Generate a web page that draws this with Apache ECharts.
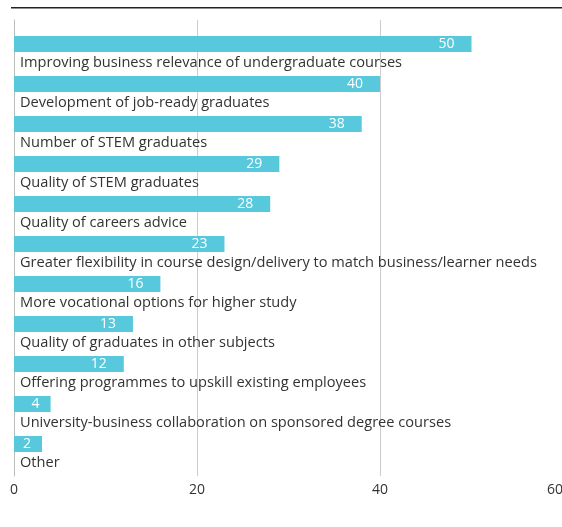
<!DOCTYPE html>
<html>
<head>
<meta charset="utf-8">
<script src="https://cdn.jsdelivr.net/npm/echarts@6/dist/echarts.min.js"></script>
<style>
  html, body { margin: 0; padding: 0; background: #fff; }
  #chart { width: 562px; height: 527px; }
</style>
</head>
<body>
<div id="chart"></div>
<script>
// Survey priorities, % of respondents
const categories = [
  'Improving business relevance of undergraduate courses',
  'Development of job-ready graduates',
  'Number of STEM graduates',
  'Quality of STEM graduates',
  'Quality of careers advice',
  'Greater flexibility in course design/delivery to match business/learner needs',
  'More vocational options for higher study',
  'Quality of graduates in other subjects',
  'Offering programmes to upskill existing employees',
  'University-business collaboration on sponsored degree courses',
  'Other'
];
const values = [50, 40, 38, 29, 28, 23, 16, 13, 12, 4, 2];
const axisTicks = { min: 0, max: 60, interval: 20 };

const FONT = '"Open Sans"';
const TEXT = '#333333';
const BAR = '#58c8dc';
const GRIDLINE = '#cccccc';

const chart = echarts.init(document.getElementById('chart'), null, { renderer: 'canvas' });

chart.setOption({
  animation: false,
  textStyle: { fontFamily: FONT },
  graphic: [{
    type: 'rect',
    shape: { x: 11, y: 7, width: 560, height: 1.5 },
    style: { fill: '#222222' }
  }],
  grid: [
    { left: 14, top: 36, right: -1, height: 440, containLabel: false, outerBoundsMode: 'none' },
    { left: 14, top: 20, right: -1, height: 16, containLabel: false, outerBoundsMode: 'none' }
  ],
  xAxis: [{
    gridIndex: 0,
    type: 'value',
    min: axisTicks.min, max: axisTicks.max, interval: axisTicks.interval,
    axisLine: { show: false },
    axisTick: { show: false },
    splitLine: { show: true, lineStyle: { color: GRIDLINE, width: 1 } },
    axisLabel: {
      color: TEXT, fontSize: 14, fontFamily: FONT, margin: 7,
      alignMaxLabel: 'right'
    }
  }, {
    gridIndex: 1,
    type: 'value',
    min: axisTicks.min, max: axisTicks.max, interval: axisTicks.interval,
    axisLine: { show: false },
    axisTick: { show: false },
    axisLabel: { show: false },
    splitLine: { show: true, lineStyle: { color: GRIDLINE, width: 1 } }
  }],
  yAxis: [{
    gridIndex: 0,
    type: 'category',
    inverse: true,
    data: categories,
    axisLine: { show: true, lineStyle: { color: '#bbbbbb', width: 1 } },
    axisTick: { show: false },
    axisLabel: {
      inside: true,
      margin: 6,
      color: TEXT,
      fontSize: 14.6,
      fontFamily: FONT,
      verticalAlign: 'top',
      lineHeight: 14
    }
  }, {
    gridIndex: 1,
    type: 'value',
    axisLine: { show: true, onZero: false, lineStyle: { color: '#bbbbbb', width: 1 } },
    axisTick: { show: false },
    axisLabel: { show: false },
    splitLine: { show: false }
  }],
  series: [{
    type: 'bar',
    xAxisIndex: 0, yAxisIndex: 0,
    barWidth: 16,
    barGap: '50%',
    barMinHeight: 28,
    itemStyle: { color: BAR },
    data: values.map(v => ({
      value: v,
      label: { distance: v < 10 ? 11 : 17 }
    })),
    label: {
      show: true,
      position: 'insideRight',
      color: '#ffffff',
      fontSize: 14,
      fontFamily: FONT
    }
  }, {
    // empty companion series: keeps the bars in the upper part of each row
    type: 'bar',
    xAxisIndex: 0, yAxisIndex: 0,
    barWidth: 16,
    data: [],
    silent: true
  }]
});
</script>
</body>
</html>
